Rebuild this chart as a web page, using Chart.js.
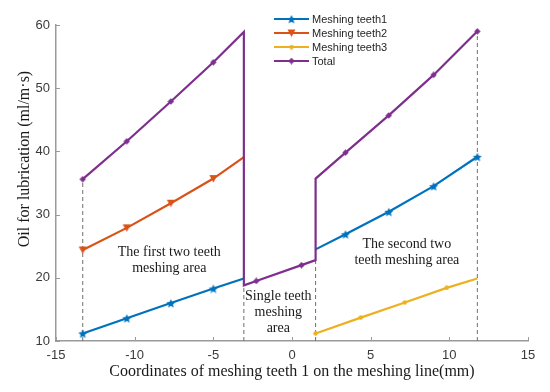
<!DOCTYPE html>
<html>
<head>
<meta charset="utf-8">
<script src="https://cdn.jsdelivr.net/npm/chart.js@4.4.1/dist/chart.umd.min.js"></script>
<style>
  html, body { margin: 0; padding: 0; background: #fff; }
  canvas { display: block; }
</style>
</head>
<body>
<canvas id="oilChart" width="550" height="392"></canvas>
<script>
(function () {
  'use strict';

  // Valores (x en mm, y en ml/m·s); null = corte de línea
  const teeth1X = [-13.3, -10.5, -7.7, -5.0, -3.06, null, 1.5, 3.4, 6.15, 9.0, 11.78];
  const teeth1Y = [11.2, 13.6, 16.0, 18.3, 19.9, null, 24.5, 26.9, 30.45, 34.5, 39.15];
  const teeth1Marks = [0, 1, 2, 3, 7, 8, 9, 10];

  const teeth2X = [-13.3, -10.5, -7.7, -5.0, -3.06];
  const teeth2Y = [24.4, 27.9, 31.8, 35.7, 39.1];
  const teeth2Marks = [0, 1, 2, 3];

  const teeth3X = [1.5, 4.37, 7.17, 9.83, 11.78];
  const teeth3Y = [11.2, 13.7, 16.1, 18.4, 19.9];
  const teeth3Marks = [0, 1, 2, 3];

  const totalX = [-13.3, -10.5, -7.7, -5.0, -3.06, -3.06, -2.27, 0.6, 1.5, 1.5, 3.4, 6.15, 9.0, 11.78];
  const totalY = [35.6, 41.6, 47.9, 54.1, 58.9, 18.8, 19.5, 22.0, 22.8, 35.7, 39.8, 45.7, 52.1, 59.0];
  const totalMarks = [0, 1, 2, 3, 6, 7, 10, 11, 12, 13];

  // Límites de zona (líneas discontinuas)
  const boundaryX = [-13.3, -3.06, 1.5, 11.78];
  const boundaryTop = [35.6, 18.8, 22.8, 59.0];

  const xTicks = [-15, -10, -5, 0, 5, 10, 15];
  const yTicks = [10, 20, 30, 40, 50, 60];

  const seriesNames = ['Meshing teeth1', 'Meshing teeth2', 'Meshing teeth3', 'Total'];

  const areaLabels = [
    { lines: ['The first two teeth', 'meshing area'], x: -7.8, y: 24.1 },
    { lines: ['Single teeth', 'meshing', 'area'], x: -0.87, y: 17.1 },
    { lines: ['The second two', 'teeth meshing area'], x: 7.3, y: 25.3 }
  ];

  const COLORS = {
    teeth1: '#0072BD',
    teeth2: '#D95319',
    teeth3: '#EDB120',
    total: '#7E2F8E',
    axis: '#9a9a9a',
    tick: '#3a3a3a',
    text: '#1a1a1a',
    dash: '#6f6f6f'
  };

  const SERIF = '"Liberation Serif", "Times New Roman", serif';
  const SANS = '"Liberation Sans", Arial, sans-serif';

  // Marcadores estilo MATLAB dibujados en un canvas pequeño
  function makeMarker(shape, color, size) {
    const c = document.createElement('canvas');
    c.width = size;
    c.height = size;
    const g = c.getContext('2d');
    const m = size / 2;
    g.fillStyle = color;
    g.beginPath();
    if (shape === 'star') {
      for (let i = 0; i < 10; i++) {
        const r = i % 2 ? m * 0.45 : m - 0.3;
        const a = -Math.PI / 2 + i * Math.PI / 5;
        g.lineTo(m + r * Math.cos(a), m + 0.6 + r * Math.sin(a));
      }
    } else if (shape === 'down') {
      g.moveTo(0.5, 1);
      g.lineTo(size - 0.5, 1);
      g.lineTo(m, size - 0.5);
    } else if (shape === 'diamond') {
      g.moveTo(m, 0.3);
      g.lineTo(size - 0.3, m);
      g.lineTo(m, size - 0.3);
      g.lineTo(0.3, m);
    } else {
      g.arc(m, m, m - 0.3, 0, Math.PI * 2);
    }
    g.closePath();
    g.fill();
    return c;
  }

  const markers = {
    teeth1: makeMarker('star', COLORS.teeth1, 10),
    teeth2: makeMarker('down', COLORS.teeth2, 9),
    teeth3: makeMarker('dot', COLORS.teeth3, 5),
    total: makeMarker('diamond', COLORS.total, 7)
  };

  function toPoints(xs, ys) {
    return xs.map((x, i) => ({ x: x, y: ys[i] }));
  }

  function series(label, xs, ys, marks, color, marker, order) {
    return {
      label: label,
      data: toPoints(xs, ys),
      borderColor: color,
      backgroundColor: color,
      borderWidth: 2.2,
      pointStyle: marker,
      pointRadius: (ctx) => (marks.includes(ctx.dataIndex) ? 4 : 0),
      pointHoverRadius: 0,
      tension: 0,
      spanGaps: false,
      order: order
    };
  }

  const boundarySets = boundaryX.map((x, i) => ({
    label: 'boundary',
    data: toPoints([x, x], [yTicks[0], boundaryTop[i]]),
    borderColor: COLORS.dash,
    borderWidth: 1,
    borderDash: [4, 3],
    pointRadius: 0,
    order: 10
  }));

  const legendItems = [
    { name: seriesNames[0], color: COLORS.teeth1, marker: markers.teeth1 },
    { name: seriesNames[1], color: COLORS.teeth2, marker: markers.teeth2 },
    { name: seriesNames[2], color: COLORS.teeth3, marker: markers.teeth3 },
    { name: seriesNames[3], color: COLORS.total, marker: markers.total }
  ];

  // Marcas interiores de los ejes, textos de zona, leyenda y título del eje Y
  const overlayPlugin = {
    id: 'overlay',
    afterDraw(chart) {
      const ctx = chart.ctx;
      const xs = chart.scales.x;
      const ys = chart.scales.y;
      const area = chart.chartArea;

      ctx.save();
      ctx.strokeStyle = COLORS.axis;
      ctx.lineWidth = 1;
      ctx.beginPath();
      xTicks.forEach((v) => {
        const px = Math.round(xs.getPixelForValue(v)) + 0.5;
        ctx.moveTo(px, area.bottom);
        ctx.lineTo(px, area.bottom - 4);
      });
      yTicks.forEach((v) => {
        const py = Math.round(ys.getPixelForValue(v)) + 0.5;
        ctx.moveTo(area.left, py);
        ctx.lineTo(area.left + 4, py);
      });
      ctx.stroke();

      ctx.fillStyle = COLORS.text;
      ctx.font = '14px ' + SERIF;
      ctx.textAlign = 'center';
      ctx.textBaseline = 'middle';
      areaLabels.forEach((lbl) => {
        const px = xs.getPixelForValue(lbl.x);
        const py = ys.getPixelForValue(lbl.y);
        lbl.lines.forEach((line, i) => ctx.fillText(line, px, py + i * 16));
      });

      // Leyenda
      ctx.font = '11px ' + SANS;
      ctx.textAlign = 'left';
      legendItems.forEach((item, i) => {
        const y = 19 + i * 14;
        ctx.strokeStyle = item.color;
        ctx.lineWidth = 2;
        ctx.beginPath();
        ctx.moveTo(274, y);
        ctx.lineTo(309, y);
        ctx.stroke();
        ctx.drawImage(item.marker, 291.5 - item.marker.width / 2, y - item.marker.height / 2);
        ctx.fillStyle = '#262626';
        ctx.fillText(item.name, 312, y + 0.5);
      });

      // Título del eje Y
      ctx.translate(25, 159);
      ctx.rotate(-Math.PI / 2);
      ctx.fillStyle = COLORS.text;
      ctx.font = '16px ' + SERIF;
      ctx.textAlign = 'center';
      ctx.fillText('Oil for lubrication (ml/m\u00b7s)', 0, 0);
      ctx.restore();
    }
  };

  new Chart(document.getElementById('oilChart'), {
    type: 'line',
    data: {
      datasets: [
        series(seriesNames[3], totalX, totalY, totalMarks, COLORS.total, markers.total, 0),
        series(seriesNames[0], teeth1X, teeth1Y, teeth1Marks, COLORS.teeth1, markers.teeth1, 1),
        series(seriesNames[1], teeth2X, teeth2Y, teeth2Marks, COLORS.teeth2, markers.teeth2, 2),
        series(seriesNames[2], teeth3X, teeth3Y, teeth3Marks, COLORS.teeth3, markers.teeth3, 3)
      ].concat(boundarySets)
    },
    options: {
      responsive: false,
      animation: false,
      events: [],
      layout: { padding: { left: 12, right: 22, top: 25, bottom: 0 } },
      plugins: {
        legend: { display: false },
        tooltip: { enabled: false }
      },
      scales: {
        x: {
          type: 'linear',
          min: xTicks[0],
          max: xTicks[xTicks.length - 1],
          afterBuildTicks: (s) => { s.ticks = xTicks.map((v) => ({ value: v })); },
          afterFit: (s) => { s.height = 51; },
          grid: { display: false, drawTicks: false },
          border: { display: true, color: COLORS.axis, width: 1.5 },
          ticks: {
            color: COLORS.tick,
            padding: 7,
            maxRotation: 0,
            font: { family: SANS, size: 13 }
          },
          title: {
            display: true,
            text: 'Coordinates of meshing teeth 1 on the meshing line(mm)',
            color: COLORS.text,
            padding: { top: 0, bottom: 11 },
            font: { family: SERIF, size: 16 }
          }
        },
        y: {
          type: 'linear',
          min: yTicks[0],
          max: yTicks[yTicks.length - 1],
          afterBuildTicks: (s) => { s.ticks = yTicks.map((v) => ({ value: v })); },
          afterFit: (s) => { s.width = 44; },
          grid: { display: false, drawTicks: false },
          border: { display: true, color: COLORS.axis, width: 1.5 },
          ticks: {
            color: COLORS.tick,
            padding: 6,
            font: { family: SANS, size: 13 }
          }
        }
      }
    },
    plugins: [overlayPlugin]
  });
})();
</script>
</body>
</html>
